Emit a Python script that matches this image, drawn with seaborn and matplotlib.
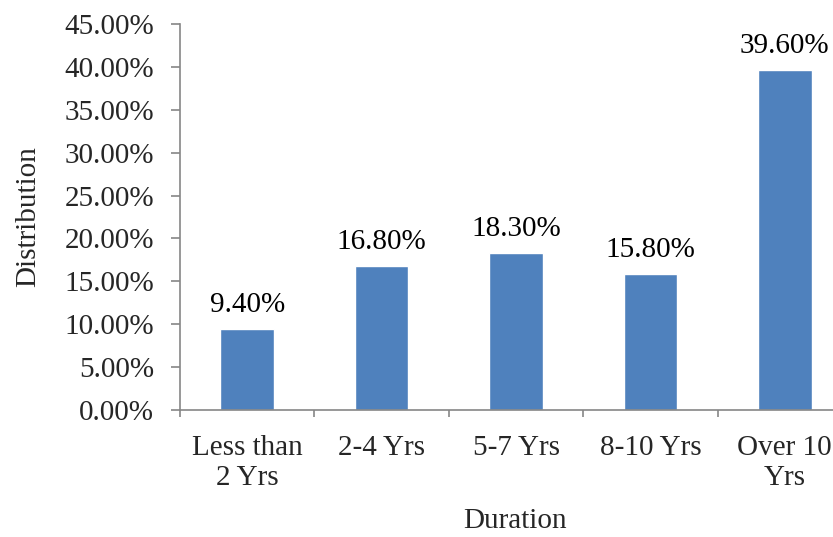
import matplotlib
matplotlib.use("Agg")
import matplotlib.pyplot as plt
import seaborn as sns
import pandas as pd
import numpy as np
from matplotlib.ticker import FuncFormatter, FixedLocator

categories = ["Less than\n2 Yrs", "2-4 Yrs", "5-7 Yrs", "8-10 Yrs", "Over 10\nYrs"]
distribution = [9.40, 16.80, 18.30, 15.80, 39.60]
value_labels = ["9.40%", "16.80%", "18.30%", "15.80%", "39.60%"]

df = pd.DataFrame({"Duration": categories, "Distribution": distribution})

sns.set_style("white")
plt.rcParams["font.family"] = ["Liberation Serif", "DejaVu Serif"]

fig = plt.figure(figsize=(8.33, 5.37), dpi=100)
W, H = 833, 537
left, right, top, bottom = 180, 852, 24, 410
ax = fig.add_axes([left / W, (H - bottom) / H, (right - left) / W, (bottom - top) / H])

sns.barplot(data=df, x="Duration", y="Distribution", color="#4F81BD",
            width=0.4, saturation=1, ax=ax)

ax.set_xlim(-0.5, len(categories) - 0.5)
ax.set_ylim(0, 45)
ax.yaxis.set_major_locator(FixedLocator(np.arange(0, 46, 5)))
ax.yaxis.set_major_formatter(FuncFormatter(lambda v, p: f"{v:.2f}%"))

fs = 21
for i, (v, lab) in enumerate(zip(distribution, value_labels)):
    ax.annotate(lab, (i, v), xytext=(0, 8), textcoords="offset points",
                ha="center", va="bottom", fontsize=fs, color="black")

spine_color = "#868686"
for side in ["top", "right"]:
    ax.spines[side].set_visible(False)
for side in ["left", "bottom"]:
    ax.spines[side].set_color(spine_color)
    ax.spines[side].set_linewidth(1.2)

ax.tick_params(axis="y", which="major", length=6.5, color=spine_color, width=1.2,
               labelsize=fs, pad=12, left=True)
ax.tick_params(axis="x", which="major", length=0, labelsize=fs, pad=18)
ax.set_xticks(np.arange(-0.5, len(categories), 1.0), minor=True)
ax.tick_params(axis="x", which="minor", length=5, color=spine_color, width=1.2, bottom=True)

ax.set_ylabel("Distribution", fontsize=fs)
ax.yaxis.set_label_coords((28 - left) / (right - left), 0.5)
ax.set_xlabel("Duration", fontsize=fs)
ax.xaxis.set_label_coords((515 - left) / (right - left), -(521 - bottom) / (bottom - top))
ax.xaxis.label.set_va("center")
ax.yaxis.label.set_va("center")

fig.savefig("out.png", dpi=100)
